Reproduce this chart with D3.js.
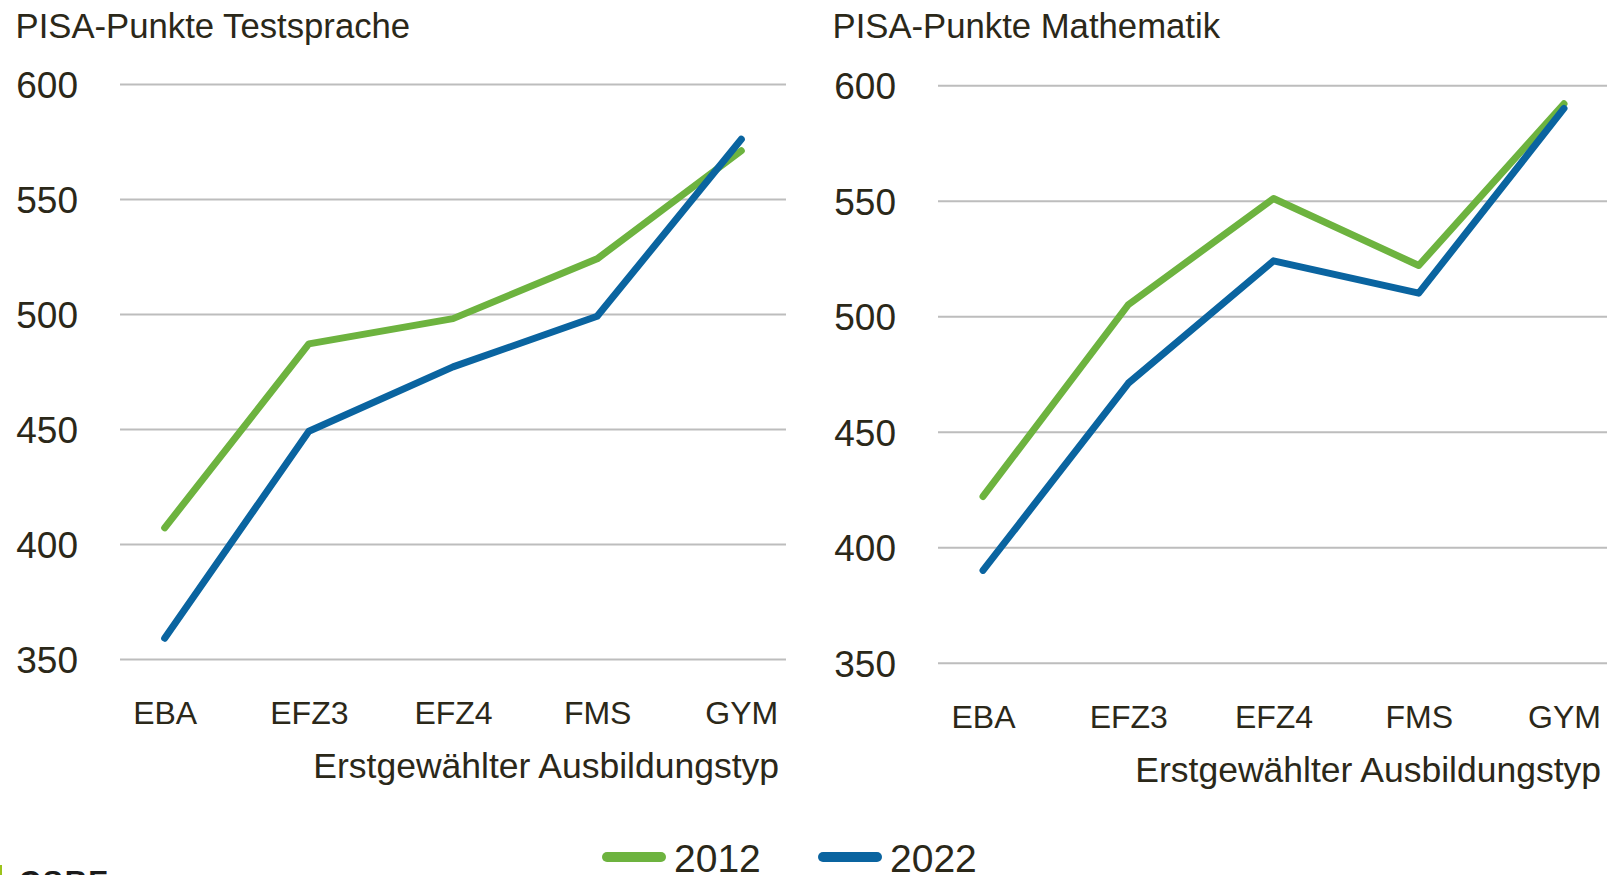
<!DOCTYPE html>
<html>
<head>
<meta charset="utf-8">
<script src="https://cdn.jsdelivr.net/npm/d3@7"></script>
<style>
  html, body { margin: 0; padding: 0; background: #ffffff; overflow: hidden; }
  svg { display: block; font-family: "Liberation Sans", Arial, sans-serif; }
</style>
</head>
<body>
<svg id="chart" width="1607" height="875"></svg>
<script>
// ---- data ----
const categories = ["EBA", "EFZ3", "EFZ4", "FMS", "GYM"];
const years = ["2012", "2022"];
const lang2012 = [407, 487, 498, 524, 571];
const lang2022 = [359, 449, 477, 499, 576];
const math2012 = [422, 505, 551, 522, 592];
const math2022 = [390, 471, 524, 510, 590];
const yTicks = [350, 400, 450, 500, 550, 600];
const panelTitles = ["PISA-Punkte Testsprache", "PISA-Punkte Mathematik"];
const xAxisTitle = "Erstgewählter Ausbildungstyp";

// ---- style ----
const colors = { "2012": "#6db33f", "2022": "#0a64a0" };
const textColor = "#2b2819";
const gridColor = "#bdbdbd";

const svg = d3.select("#chart");

const panels = [
  { title: panelTitles[0], series: [lang2012, lang2022], titleX: 15.5,
    gx0: 120, gx1: 786, top: 84.1, bottom: 658.9, tickX: 78, catDy: 65, axTitleX: 779 },
  { title: panelTitles[1], series: [math2012, math2022], titleX: 832.5,
    gx0: 938, gx1: 1609, top: 85.3, bottom: 662.8, tickX: 896, catDy: 65.5, axTitleX: 1601 }
];

panels.forEach(p => {
  const g = svg.append("g");
  const x = d3.scalePoint().domain(categories).range([p.gx0, p.gx1]).padding(0.31);
  const y = d3.scaleLinear().domain([350, 600]).range([p.bottom, p.top]);

  // title
  g.append("text")
    .attr("x", p.titleX).attr("y", 38)
    .attr("fill", textColor).attr("font-size", 34.7)
    .text(p.title);

  // y axis with gridlines
  const yAxis = g.append("g")
    .attr("transform", `translate(${p.gx0},0)`)
    .call(d3.axisLeft(y).tickValues(yTicks).tickSize(-(p.gx1 - p.gx0)).tickPadding(p.gx0 - p.tickX).tickFormat(d3.format("d")));
  yAxis.select(".domain").remove();
  yAxis.selectAll(".tick line").attr("stroke", gridColor).attr("stroke-width", 2);
  yAxis.selectAll(".tick text")
    .attr("fill", textColor).attr("font-size", 37)
    .attr("font-family", "Liberation Sans, Arial, sans-serif")
    .attr("dy", "0.36em");

  // x axis labels
  const xAxis = g.append("g")
    .attr("transform", `translate(0,${p.bottom})`)
    .call(d3.axisBottom(x).tickSize(0).tickPadding(0));
  xAxis.select(".domain").remove();
  xAxis.selectAll(".tick text")
    .attr("fill", textColor).attr("font-size", 32)
    .attr("font-family", "Liberation Sans, Arial, sans-serif")
    .attr("dy", null)
    .attr("y", p.catDy);

  // x axis title
  g.append("text")
    .attr("x", p.axTitleX).attr("y", p.bottom + p.catDy + 54)
    .attr("text-anchor", "end")
    .attr("fill", textColor).attr("font-size", 35.5)
    .text(xAxisTitle);

  // lines
  const line = d3.line().x((d, i) => x(categories[i])).y(d => y(d));
  p.series.forEach((s, si) => {
    g.append("path")
      .datum(s)
      .attr("d", line)
      .attr("fill", "none")
      .attr("stroke", colors[years[si]])
      .attr("stroke-width", 7)
      .attr("stroke-linecap", "round")
      .attr("stroke-linejoin", "round");
  });
});

// legend
const legendItems = [
  { year: years[0], x0: 607, x1: 661, tx: 674 },
  { year: years[1], x0: 823, x1: 877, tx: 890 }
];
const lg = svg.append("g");
legendItems.forEach(it => {
  lg.append("line")
    .attr("x1", it.x0).attr("x2", it.x1).attr("y1", 857).attr("y2", 857)
    .attr("stroke", colors[it.year]).attr("stroke-width", 10).attr("stroke-linecap", "round");
  lg.append("text")
    .attr("x", it.tx).attr("y", 871.5)
    .attr("fill", textColor).attr("font-size", 39)
    .text(it.year);
});

// logo fragment at bottom-left
svg.append("rect").attr("x", 0).attr("y", 865).attr("width", 2).attr("height", 10).attr("fill", "#9cc31c");
svg.append("text")
  .attr("x", 19).attr("y", 891)
  .attr("fill", "#1b1b1b").attr("font-size", 30).attr("font-weight", "bold")
  .attr("letter-spacing", 2)
  .text("CSRE");
</script>
</body>
</html>
